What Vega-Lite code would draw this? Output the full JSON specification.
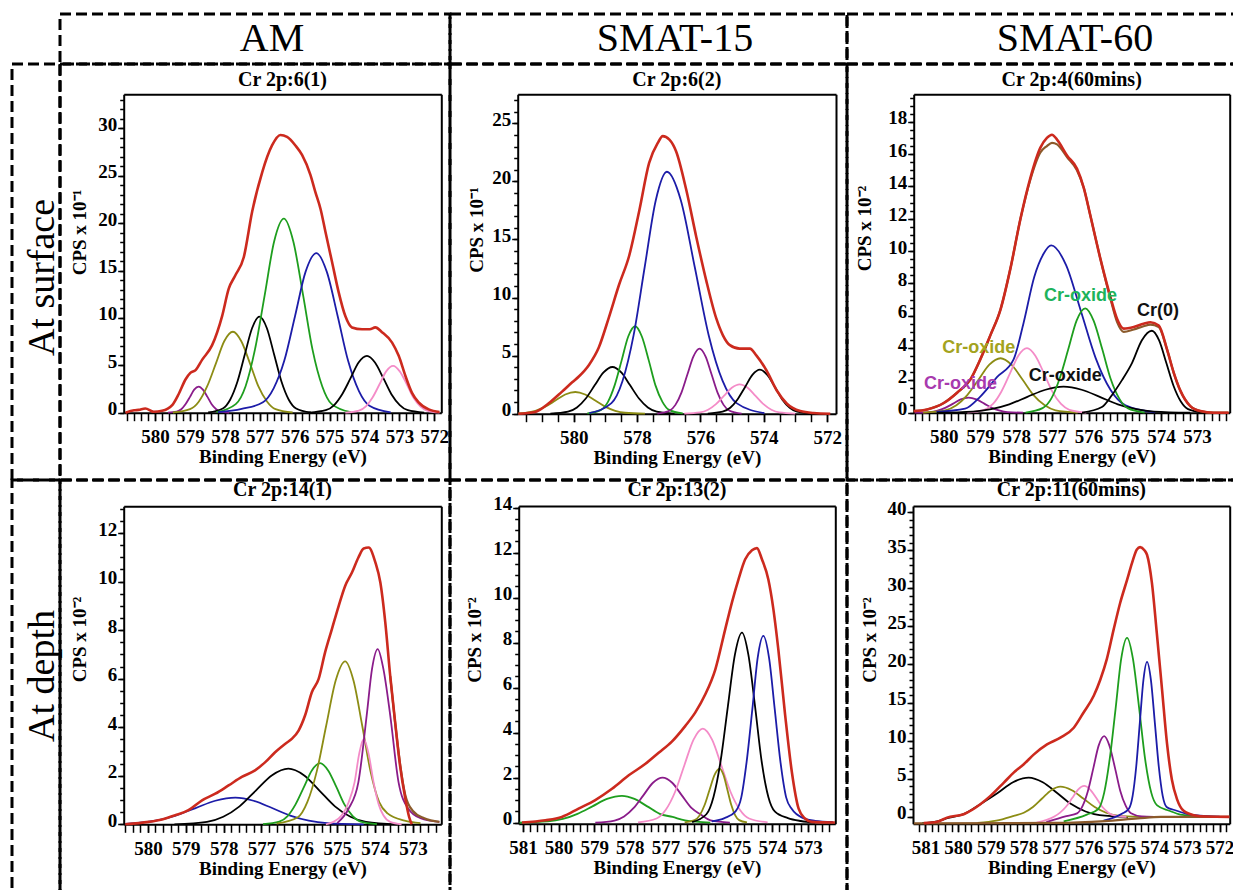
{
"$schema":"https://vega.github.io/schema/vega-lite/v6.json",
"background":"white",
"padding":{"left":10,"top":12,"right":0,"bottom":0},
"config":{
 "axis":{"labelFont":"Liberation Serif","labelFontSize":19,"labelFontWeight":"bold","labelColor":"black","titleFont":"Liberation Serif","titleFontSize":19,"titleFontWeight":"bold","titleColor":"black","domainColor":"black","domainWidth":2,"tickColor":"black","tickWidth":1.5,"grid":false,"labelOverlap":false,"labelFlush":false},
 "title":{"font":"Liberation Serif","fontSize":20,"fontWeight":"bold","color":"black"}
},
"datasets":{
"labels":[
{"p":3,"s":"G","t":"Cr-oxide","x":576.22,"y":7.25},
{"p":3,"s":"K","t":"Cr(0)","x":574.08,"y":6.31},
{"p":3,"s":"O","t":"Cr-oxide","x":579.03,"y":4.0},
{"p":3,"s":"K","t":"Cr-oxide","x":576.64,"y":2.28},
{"p":3,"s":"P","t":"Cr-oxide","x":579.54,"y":1.76}
],
"curves":[
{"p":1,"s":"P","x":579.63,"y":0.01},{"p":1,"s":"P","x":579.38,"y":0.12},{"p":1,"s":"P","x":579.25,"y":0.37},{"p":1,"s":"P","x":579.13,"y":0.89},{"p":1,"s":"P","x":579.0,"y":1.67},{"p":1,"s":"P","x":578.88,"y":2.43},{"p":1,"s":"P","x":578.75,"y":2.75},{"p":1,"s":"P","x":578.63,"y":2.43},{"p":1,"s":"P","x":578.5,"y":1.67},{"p":1,"s":"P","x":578.38,"y":0.89},{"p":1,"s":"P","x":578.25,"y":0.37},{"p":1,"s":"P","x":578.13,"y":0.12},{"p":1,"s":"P","x":577.88,"y":0.01},
{"p":1,"s":"O","x":579.49,"y":0.02},{"p":1,"s":"O","x":579.0,"y":0.37},{"p":1,"s":"O","x":578.75,"y":1.16},{"p":1,"s":"O","x":578.51,"y":2.77},{"p":1,"s":"O","x":578.26,"y":5.18},{"p":1,"s":"O","x":578.02,"y":7.54},{"p":1,"s":"O","x":577.77,"y":8.54},{"p":1,"s":"O","x":577.53,"y":7.54},{"p":1,"s":"O","x":577.28,"y":5.18},{"p":1,"s":"O","x":577.04,"y":2.77},{"p":1,"s":"O","x":576.79,"y":1.16},{"p":1,"s":"O","x":576.55,"y":0.37},{"p":1,"s":"O","x":576.06,"y":0.02},
{"p":1,"s":"K","x":578.48,"y":0.02},{"p":1,"s":"K","x":578.06,"y":0.44},{"p":1,"s":"K","x":577.85,"y":1.37},{"p":1,"s":"K","x":577.64,"y":3.29},{"p":1,"s":"K","x":577.43,"y":6.14},{"p":1,"s":"K","x":577.22,"y":8.94},{"p":1,"s":"K","x":577.01,"y":10.13},{"p":1,"s":"K","x":576.8,"y":8.94},{"p":1,"s":"K","x":576.59,"y":6.14},{"p":1,"s":"K","x":576.38,"y":3.29},{"p":1,"s":"K","x":576.17,"y":1.37},{"p":1,"s":"K","x":575.96,"y":0.44},{"p":1,"s":"K","x":575.54,"y":0.02},
{"p":1,"s":"G","x":578.24,"y":0.05},{"p":1,"s":"G","x":577.69,"y":0.9},{"p":1,"s":"G","x":577.41,"y":2.77},{"p":1,"s":"G","x":577.14,"y":6.65},{"p":1,"s":"G","x":576.86,"y":12.41},{"p":1,"s":"G","x":576.59,"y":18.06},{"p":1,"s":"G","x":576.31,"y":20.47},{"p":1,"s":"G","x":576.04,"y":18.06},{"p":1,"s":"G","x":575.76,"y":12.41},{"p":1,"s":"G","x":575.49,"y":6.65},{"p":1,"s":"G","x":575.21,"y":2.77},{"p":1,"s":"G","x":574.94,"y":0.9},{"p":1,"s":"G","x":574.39,"y":0.05},
{"p":1,"s":"B","x":578.2,"y":0.05},{"p":1,"s":"B","x":577.52,"y":0.4},{"p":1,"s":"B","x":576.91,"y":1.1},{"p":1,"s":"B","x":576.6,"y":2.6},{"p":1,"s":"B","x":576.3,"y":5.47},{"p":1,"s":"B","x":575.99,"y":10.21},{"p":1,"s":"B","x":575.69,"y":14.86},{"p":1,"s":"B","x":575.38,"y":16.84},{"p":1,"s":"B","x":575.08,"y":14.86},{"p":1,"s":"B","x":574.77,"y":10.21},{"p":1,"s":"B","x":574.47,"y":5.47},{"p":1,"s":"B","x":574.16,"y":2.28},{"p":1,"s":"B","x":573.86,"y":0.74},{"p":1,"s":"B","x":573.25,"y":0.04},
{"p":1,"s":"K2","x":575.58,"y":0.01},{"p":1,"s":"K2","x":575.11,"y":0.26},{"p":1,"s":"K2","x":574.87,"y":0.81},{"p":1,"s":"K2","x":574.64,"y":1.95},{"p":1,"s":"K2","x":574.4,"y":3.64},{"p":1,"s":"K2","x":574.17,"y":5.3},{"p":1,"s":"K2","x":573.93,"y":6.0},{"p":1,"s":"K2","x":573.7,"y":5.3},{"p":1,"s":"K2","x":573.46,"y":3.64},{"p":1,"s":"K2","x":573.23,"y":1.95},{"p":1,"s":"K2","x":572.99,"y":0.81},{"p":1,"s":"K2","x":572.76,"y":0.26},{"p":1,"s":"K2","x":572.29,"y":0.01},
{"p":1,"s":"M","x":574.55,"y":0.01},{"p":1,"s":"M","x":574.16,"y":0.22},{"p":1,"s":"M","x":573.96,"y":0.67},{"p":1,"s":"M","x":573.77,"y":1.6},{"p":1,"s":"M","x":573.57,"y":3.0},{"p":1,"s":"M","x":573.38,"y":4.36},{"p":1,"s":"M","x":573.18,"y":4.94},{"p":1,"s":"M","x":572.99,"y":4.36},{"p":1,"s":"M","x":572.79,"y":3.0},{"p":1,"s":"M","x":572.6,"y":1.6},{"p":1,"s":"M","x":572.4,"y":0.67},{"p":1,"s":"M","x":572.21,"y":0.22},{"p":1,"s":"M","x":571.85,"y":0.01},
{"p":1,"s":"R","x":580.85,"y":0},{"p":1,"s":"R","x":580.6,"y":0.25},{"p":1,"s":"R","x":580.47,"y":0.3},{"p":1,"s":"R","x":580.28,"y":0.45},{"p":1,"s":"R","x":580.04,"y":0.1},{"p":1,"s":"R","x":579.8,"y":0.2},{"p":1,"s":"R","x":579.51,"y":0.8},{"p":1,"s":"R","x":579.32,"y":2.0},{"p":1,"s":"R","x":579.13,"y":3.5},{"p":1,"s":"R","x":578.99,"y":4.2},{"p":1,"s":"R","x":578.84,"y":4.5},{"p":1,"s":"R","x":578.65,"y":5.6},{"p":1,"s":"R","x":578.37,"y":7.1},{"p":1,"s":"R","x":578.08,"y":10.2},{"p":1,"s":"R","x":577.89,"y":13.1},{"p":1,"s":"R","x":577.7,"y":14.5},{"p":1,"s":"R","x":577.46,"y":16.4},{"p":1,"s":"R","x":577.22,"y":21.2},{"p":1,"s":"R","x":576.93,"y":25.4},{"p":1,"s":"R","x":576.65,"y":28.2},{"p":1,"s":"R","x":576.41,"y":29.3},{"p":1,"s":"R","x":576.22,"y":29.1},{"p":1,"s":"R","x":575.98,"y":28.2},{"p":1,"s":"R","x":575.79,"y":27.2},{"p":1,"s":"R","x":575.55,"y":25.1},{"p":1,"s":"R","x":575.41,"y":23.3},{"p":1,"s":"R","x":575.26,"y":21.5},{"p":1,"s":"R","x":575.12,"y":19.1},{"p":1,"s":"R","x":574.93,"y":15.9},{"p":1,"s":"R","x":574.74,"y":12.7},{"p":1,"s":"R","x":574.55,"y":10.2},{"p":1,"s":"R","x":574.36,"y":9.0},{"p":1,"s":"R","x":574.07,"y":8.8},{"p":1,"s":"R","x":573.85,"y":8.8},{"p":1,"s":"R","x":573.69,"y":9.0},{"p":1,"s":"R","x":573.5,"y":8.5},{"p":1,"s":"R","x":573.21,"y":7.4},{"p":1,"s":"R","x":573.02,"y":6.0},{"p":1,"s":"R","x":572.83,"y":3.9},{"p":1,"s":"R","x":572.64,"y":2.1},{"p":1,"s":"R","x":572.45,"y":1.1},{"p":1,"s":"R","x":572.16,"y":0.35},{"p":1,"s":"R","x":571.85,"y":0.07},

{"p":2,"s":"O","x":581.75,"y":0.03},{"p":2,"s":"O","x":581.53,"y":0.08},{"p":2,"s":"O","x":581.21,"y":0.25},{"p":2,"s":"O","x":580.9,"y":0.61},{"p":2,"s":"O","x":580.58,"y":1.13},{"p":2,"s":"O","x":580.27,"y":1.65},{"p":2,"s":"O","x":579.95,"y":1.87},{"p":2,"s":"O","x":579.64,"y":1.65},{"p":2,"s":"O","x":579.32,"y":1.13},{"p":2,"s":"O","x":579.01,"y":0.61},{"p":2,"s":"O","x":578.69,"y":0.25},{"p":2,"s":"O","x":578.38,"y":0.08},{"p":2,"s":"O","x":577.75,"y":0},
{"p":2,"s":"K","x":580.74,"y":0.01},{"p":2,"s":"K","x":580.18,"y":0.18},{"p":2,"s":"K","x":579.9,"y":0.54},{"p":2,"s":"K","x":579.62,"y":1.31},{"p":2,"s":"K","x":579.34,"y":2.44},{"p":2,"s":"K","x":579.06,"y":3.55},{"p":2,"s":"K","x":578.78,"y":4.02},{"p":2,"s":"K","x":578.5,"y":3.55},{"p":2,"s":"K","x":578.22,"y":2.44},{"p":2,"s":"K","x":577.94,"y":1.31},{"p":2,"s":"K","x":577.66,"y":0.54},{"p":2,"s":"K","x":577.38,"y":0.18},{"p":2,"s":"K","x":576.82,"y":0.01},
{"p":2,"s":"G","x":579.57,"y":0.02},{"p":2,"s":"G","x":579.14,"y":0.33},{"p":2,"s":"G","x":578.92,"y":1.02},{"p":2,"s":"G","x":578.71,"y":2.44},{"p":2,"s":"G","x":578.49,"y":4.57},{"p":2,"s":"G","x":578.28,"y":6.65},{"p":2,"s":"G","x":578.06,"y":7.53},{"p":2,"s":"G","x":577.85,"y":6.65},{"p":2,"s":"G","x":577.63,"y":4.57},{"p":2,"s":"G","x":577.42,"y":2.44},{"p":2,"s":"G","x":577.2,"y":1.02},{"p":2,"s":"G","x":576.99,"y":0.33},{"p":2,"s":"G","x":576.56,"y":0.02},
{"p":2,"s":"B","x":579.51,"y":0.05},{"p":2,"s":"B","x":578.81,"y":0.91},{"p":2,"s":"B","x":578.46,"y":2.82},{"p":2,"s":"B","x":578.11,"y":6.76},{"p":2,"s":"B","x":577.76,"y":12.63},{"p":2,"s":"B","x":577.41,"y":18.38},{"p":2,"s":"B","x":577.06,"y":20.83},{"p":2,"s":"B","x":576.62,"y":18.38},{"p":2,"s":"B","x":576.18,"y":12.63},{"p":2,"s":"B","x":575.74,"y":6.76},{"p":2,"s":"B","x":575.3,"y":2.82},{"p":2,"s":"B","x":574.86,"y":0.91},{"p":2,"s":"B","x":573.98,"y":0.05},
{"p":2,"s":"P","x":577.36,"y":0.01},{"p":2,"s":"P","x":576.98,"y":0.25},{"p":2,"s":"P","x":576.79,"y":0.76},{"p":2,"s":"P","x":576.6,"y":1.82},{"p":2,"s":"P","x":576.41,"y":3.4},{"p":2,"s":"P","x":576.22,"y":4.94},{"p":2,"s":"P","x":576.03,"y":5.6},{"p":2,"s":"P","x":575.84,"y":4.94},{"p":2,"s":"P","x":575.65,"y":3.4},{"p":2,"s":"P","x":575.46,"y":1.82},{"p":2,"s":"P","x":575.27,"y":0.76},{"p":2,"s":"P","x":575.08,"y":0.25},{"p":2,"s":"P","x":574.7,"y":0.01},
{"p":2,"s":"M","x":576.51,"y":0.01},{"p":2,"s":"M","x":576.01,"y":0.11},{"p":2,"s":"M","x":575.76,"y":0.34},{"p":2,"s":"M","x":575.51,"y":0.82},{"p":2,"s":"M","x":575.26,"y":1.53},{"p":2,"s":"M","x":575.01,"y":2.23},{"p":2,"s":"M","x":574.76,"y":2.53},{"p":2,"s":"M","x":574.51,"y":2.23},{"p":2,"s":"M","x":574.26,"y":1.53},{"p":2,"s":"M","x":574.01,"y":0.82},{"p":2,"s":"M","x":573.76,"y":0.34},{"p":2,"s":"M","x":573.51,"y":0.11},{"p":2,"s":"M","x":573.01,"y":0.01},
{"p":2,"s":"K2","x":575.77,"y":0.01},{"p":2,"s":"K2","x":575.3,"y":0.17},{"p":2,"s":"K2","x":575.06,"y":0.51},{"p":2,"s":"K2","x":574.83,"y":1.23},{"p":2,"s":"K2","x":574.59,"y":2.3},{"p":2,"s":"K2","x":574.36,"y":3.34},{"p":2,"s":"K2","x":574.12,"y":3.79},{"p":2,"s":"K2","x":573.89,"y":3.34},{"p":2,"s":"K2","x":573.65,"y":2.3},{"p":2,"s":"K2","x":573.42,"y":1.23},{"p":2,"s":"K2","x":573.18,"y":0.51},{"p":2,"s":"K2","x":572.95,"y":0.17},{"p":2,"s":"K2","x":572.48,"y":0.01},
{"p":2,"s":"R","x":581.75,"y":0},{"p":2,"s":"R","x":581.22,"y":0.15},{"p":2,"s":"R","x":580.79,"y":0.9},{"p":2,"s":"R","x":580.37,"y":1.9},{"p":2,"s":"R","x":580.05,"y":2.7},{"p":2,"s":"R","x":579.84,"y":3.2},{"p":2,"s":"R","x":579.52,"y":4.2},{"p":2,"s":"R","x":579.21,"y":5.7},{"p":2,"s":"R","x":578.89,"y":8.3},{"p":2,"s":"R","x":578.57,"y":11.1},{"p":2,"s":"R","x":578.25,"y":13.6},{"p":2,"s":"R","x":577.93,"y":17.5},{"p":2,"s":"R","x":577.62,"y":21.6},{"p":2,"s":"R","x":577.35,"y":23.3},{"p":2,"s":"R","x":577.19,"y":23.9},{"p":2,"s":"R","x":576.98,"y":23.6},{"p":2,"s":"R","x":576.77,"y":22.6},{"p":2,"s":"R","x":576.45,"y":19.3},{"p":2,"s":"R","x":576.13,"y":15.2},{"p":2,"s":"R","x":575.82,"y":11.5},{"p":2,"s":"R","x":575.5,"y":8.2},{"p":2,"s":"R","x":575.29,"y":6.75},{"p":2,"s":"R","x":575.07,"y":5.9},{"p":2,"s":"R","x":574.76,"y":5.6},{"p":2,"s":"R","x":574.44,"y":5.6},{"p":2,"s":"R","x":574.23,"y":5.0},{"p":2,"s":"R","x":573.91,"y":3.7},{"p":2,"s":"R","x":573.59,"y":2.0},{"p":2,"s":"R","x":573.27,"y":0.86},{"p":2,"s":"R","x":572.85,"y":0.23},{"p":2,"s":"R","x":572.43,"y":0.06},{"p":2,"s":"R","x":571.9,"y":0},

{"p":3,"s":"P","x":580.8,"y":0},{"p":3,"s":"P","x":580.39,"y":0.04},{"p":3,"s":"P","x":580.17,"y":0.13},{"p":3,"s":"P","x":579.96,"y":0.3},{"p":3,"s":"P","x":579.74,"y":0.56},{"p":3,"s":"P","x":579.53,"y":0.82},{"p":3,"s":"P","x":579.31,"y":0.93},{"p":3,"s":"P","x":579.1,"y":0.82},{"p":3,"s":"P","x":578.88,"y":0.56},{"p":3,"s":"P","x":578.67,"y":0.3},{"p":3,"s":"P","x":578.45,"y":0.13},{"p":3,"s":"P","x":578.24,"y":0.04},{"p":3,"s":"P","x":577.81,"y":0},
{"p":3,"s":"O","x":580.57,"y":0.01},{"p":3,"s":"O","x":579.96,"y":0.15},{"p":3,"s":"O","x":579.65,"y":0.46},{"p":3,"s":"O","x":579.35,"y":1.09},{"p":3,"s":"O","x":579.04,"y":2.04},{"p":3,"s":"O","x":578.74,"y":2.97},{"p":3,"s":"O","x":578.43,"y":3.37},{"p":3,"s":"O","x":578.13,"y":2.97},{"p":3,"s":"O","x":577.82,"y":2.04},{"p":3,"s":"O","x":577.52,"y":1.09},{"p":3,"s":"O","x":577.21,"y":0.46},{"p":3,"s":"O","x":576.91,"y":0.15},{"p":3,"s":"O","x":576.3,"y":0.01},
{"p":3,"s":"B","x":580.2,"y":0.05},{"p":3,"s":"B","x":579.41,"y":0.25},{"p":3,"s":"B","x":578.99,"y":1.0},{"p":3,"s":"B","x":578.53,"y":2.2},{"p":3,"s":"B","x":578.07,"y":3.3},{"p":3,"s":"B","x":577.79,"y":5.6},{"p":3,"s":"B","x":577.5,"y":8.4},{"p":3,"s":"B","x":577.25,"y":9.8},{"p":3,"s":"B","x":577.03,"y":10.35},{"p":3,"s":"B","x":576.62,"y":9.13},{"p":3,"s":"B","x":576.21,"y":6.28},{"p":3,"s":"B","x":575.8,"y":3.36},{"p":3,"s":"B","x":575.39,"y":1.4},{"p":3,"s":"B","x":574.98,"y":0.45},{"p":3,"s":"B","x":574.16,"y":0.02},
{"p":3,"s":"M","x":579.35,"y":0.01},{"p":3,"s":"M","x":578.88,"y":0.18},{"p":3,"s":"M","x":578.64,"y":0.54},{"p":3,"s":"M","x":578.41,"y":1.3},{"p":3,"s":"M","x":578.17,"y":2.43},{"p":3,"s":"M","x":577.94,"y":3.53},{"p":3,"s":"M","x":577.7,"y":4.0},{"p":3,"s":"M","x":577.47,"y":3.53},{"p":3,"s":"M","x":577.23,"y":2.43},{"p":3,"s":"M","x":577.0,"y":1.3},{"p":3,"s":"M","x":576.76,"y":0.54},{"p":3,"s":"M","x":576.53,"y":0.18},{"p":3,"s":"M","x":576.06,"y":0.01},
{"p":3,"s":"K","x":580.19,"y":0},{"p":3,"s":"K","x":579.19,"y":0.07},{"p":3,"s":"K","x":578.69,"y":0.22},{"p":3,"s":"K","x":578.19,"y":0.52},{"p":3,"s":"K","x":577.69,"y":0.98},{"p":3,"s":"K","x":577.19,"y":1.42},{"p":3,"s":"K","x":576.69,"y":1.61},{"p":3,"s":"K","x":576.19,"y":1.42},{"p":3,"s":"K","x":575.69,"y":0.98},{"p":3,"s":"K","x":575.19,"y":0.52},{"p":3,"s":"K","x":574.69,"y":0.22},{"p":3,"s":"K","x":574.19,"y":0.07},{"p":3,"s":"K","x":573.19,"y":0},
{"p":3,"s":"G","x":577.74,"y":0.01},{"p":3,"s":"G","x":577.27,"y":0.28},{"p":3,"s":"G","x":577.03,"y":0.87},{"p":3,"s":"G","x":576.8,"y":2.1},{"p":3,"s":"G","x":576.56,"y":3.92},{"p":3,"s":"G","x":576.33,"y":5.7},{"p":3,"s":"G","x":576.09,"y":6.46},{"p":3,"s":"G","x":575.86,"y":5.7},{"p":3,"s":"G","x":575.62,"y":3.92},{"p":3,"s":"G","x":575.39,"y":2.1},{"p":3,"s":"G","x":575.15,"y":0.87},{"p":3,"s":"G","x":574.92,"y":0.28},{"p":3,"s":"G","x":574.45,"y":0.01},
{"p":3,"s":"K2","x":576.18,"y":0.01},{"p":3,"s":"K2","x":575.63,"y":0.35},{"p":3,"s":"K2","x":575.35,"y":1.1},{"p":3,"s":"K2","x":575.08,"y":2.0},{"p":3,"s":"K2","x":574.8,"y":3.07},{"p":3,"s":"K2","x":574.53,"y":4.47},{"p":3,"s":"K2","x":574.25,"y":5.07},{"p":3,"s":"K2","x":574.05,"y":4.47},{"p":3,"s":"K2","x":573.85,"y":3.07},{"p":3,"s":"K2","x":573.65,"y":1.65},{"p":3,"s":"K2","x":573.45,"y":0.69},{"p":3,"s":"K2","x":573.25,"y":0.22},{"p":3,"s":"K2","x":572.85,"y":0.01},
{"p":3,"s":"N","x":580.83,"y":0.1},{"p":3,"s":"N","x":580.46,"y":0.2},{"p":3,"s":"N","x":580.0,"y":0.6},{"p":3,"s":"N","x":579.63,"y":1.24},{"p":3,"s":"N","x":579.26,"y":2.07},{"p":3,"s":"N","x":578.99,"y":3.3},{"p":3,"s":"N","x":578.71,"y":4.8},{"p":3,"s":"N","x":578.43,"y":6.4},{"p":3,"s":"N","x":578.16,"y":8.9},{"p":3,"s":"N","x":577.88,"y":12.0},{"p":3,"s":"N","x":577.61,"y":14.4},{"p":3,"s":"N","x":577.33,"y":16.1},{"p":3,"s":"N","x":577.15,"y":16.5},{"p":3,"s":"N","x":577.01,"y":16.7},{"p":3,"s":"N","x":576.87,"y":16.6},{"p":3,"s":"N","x":576.59,"y":15.8},{"p":3,"s":"N","x":576.32,"y":15.0},{"p":3,"s":"N","x":576.13,"y":13.9},{"p":3,"s":"N","x":575.95,"y":12.2},{"p":3,"s":"N","x":575.67,"y":9.5},{"p":3,"s":"N","x":575.4,"y":7.1},{"p":3,"s":"N","x":575.21,"y":5.6},{"p":3,"s":"N","x":575.03,"y":5.0},{"p":3,"s":"N","x":574.75,"y":5.15},{"p":3,"s":"N","x":574.48,"y":5.35},{"p":3,"s":"N","x":574.29,"y":5.45},{"p":3,"s":"N","x":574.06,"y":5.3},{"p":3,"s":"N","x":573.83,"y":3.9},{"p":3,"s":"N","x":573.65,"y":2.5},{"p":3,"s":"N","x":573.46,"y":1.35},{"p":3,"s":"N","x":573.19,"y":0.41},{"p":3,"s":"N","x":572.91,"y":0.1},{"p":3,"s":"N","x":572.54,"y":0},{"p":3,"s":"N","x":572.13,"y":0},
{"p":3,"s":"R","x":580.83,"y":0.1},{"p":3,"s":"R","x":580.46,"y":0.2},{"p":3,"s":"R","x":580.0,"y":0.6},{"p":3,"s":"R","x":579.63,"y":1.24},{"p":3,"s":"R","x":579.26,"y":2.07},{"p":3,"s":"R","x":578.99,"y":3.3},{"p":3,"s":"R","x":578.71,"y":4.8},{"p":3,"s":"R","x":578.43,"y":6.4},{"p":3,"s":"R","x":578.16,"y":8.9},{"p":3,"s":"R","x":577.88,"y":12.0},{"p":3,"s":"R","x":577.61,"y":14.5},{"p":3,"s":"R","x":577.33,"y":16.4},{"p":3,"s":"R","x":577.15,"y":17.0},{"p":3,"s":"R","x":577.01,"y":17.2},{"p":3,"s":"R","x":576.87,"y":16.9},{"p":3,"s":"R","x":576.59,"y":15.9},{"p":3,"s":"R","x":576.32,"y":15.1},{"p":3,"s":"R","x":576.13,"y":13.9},{"p":3,"s":"R","x":575.95,"y":12.2},{"p":3,"s":"R","x":575.67,"y":9.5},{"p":3,"s":"R","x":575.4,"y":7.2},{"p":3,"s":"R","x":575.21,"y":5.8},{"p":3,"s":"R","x":575.03,"y":5.2},{"p":3,"s":"R","x":574.75,"y":5.3},{"p":3,"s":"R","x":574.48,"y":5.5},{"p":3,"s":"R","x":574.29,"y":5.6},{"p":3,"s":"R","x":574.06,"y":5.4},{"p":3,"s":"R","x":573.83,"y":3.9},{"p":3,"s":"R","x":573.65,"y":2.5},{"p":3,"s":"R","x":573.46,"y":1.35},{"p":3,"s":"R","x":573.19,"y":0.41},{"p":3,"s":"R","x":572.91,"y":0.1},{"p":3,"s":"R","x":572.54,"y":0},{"p":3,"s":"R","x":572.13,"y":0},

{"p":4,"s":"B","x":580.6,"y":0.02},{"p":4,"s":"B","x":580.32,"y":0.05},{"p":4,"s":"B","x":579.79,"y":0.15},{"p":4,"s":"B","x":579.27,"y":0.36},{"p":4,"s":"B","x":578.74,"y":0.67},{"p":4,"s":"B","x":578.22,"y":0.97},{"p":4,"s":"B","x":577.69,"y":1.1},{"p":4,"s":"B","x":577.21,"y":0.97},{"p":4,"s":"B","x":576.72,"y":0.67},{"p":4,"s":"B","x":576.24,"y":0.36},{"p":4,"s":"B","x":575.75,"y":0.15},{"p":4,"s":"B","x":575.27,"y":0.05},{"p":4,"s":"B","x":574.3,"y":0},
{"p":4,"s":"K","x":579.3,"y":0},{"p":4,"s":"K","x":578.44,"y":0.1},{"p":4,"s":"K","x":578.01,"y":0.31},{"p":4,"s":"K","x":577.58,"y":0.74},{"p":4,"s":"K","x":577.15,"y":1.39},{"p":4,"s":"K","x":576.72,"y":2.02},{"p":4,"s":"K","x":576.29,"y":2.29},{"p":4,"s":"K","x":575.88,"y":2.02},{"p":4,"s":"K","x":575.47,"y":1.39},{"p":4,"s":"K","x":575.06,"y":0.74},{"p":4,"s":"K","x":574.65,"y":0.31},{"p":4,"s":"K","x":574.24,"y":0.1},{"p":4,"s":"K","x":573.42,"y":0},
{"p":4,"s":"G","x":576.96,"y":0.01},{"p":4,"s":"G","x":576.53,"y":0.11},{"p":4,"s":"G","x":576.31,"y":0.34},{"p":4,"s":"G","x":576.1,"y":0.82},{"p":4,"s":"G","x":575.88,"y":1.53},{"p":4,"s":"G","x":575.67,"y":2.22},{"p":4,"s":"G","x":575.45,"y":2.52},{"p":4,"s":"G","x":575.24,"y":2.22},{"p":4,"s":"G","x":575.02,"y":1.53},{"p":4,"s":"G","x":574.81,"y":0.82},{"p":4,"s":"G","x":574.59,"y":0.34},{"p":4,"s":"G","x":574.38,"y":0.11},{"p":4,"s":"G","x":573.95,"y":0.01},
{"p":4,"s":"O","x":576.6,"y":0.03},{"p":4,"s":"O","x":576.04,"y":0.29},{"p":4,"s":"O","x":575.79,"y":0.91},{"p":4,"s":"O","x":575.54,"y":2.18},{"p":4,"s":"O","x":575.29,"y":4.07},{"p":4,"s":"O","x":575.04,"y":5.92},{"p":4,"s":"O","x":574.79,"y":6.71},{"p":4,"s":"O","x":574.57,"y":5.92},{"p":4,"s":"O","x":574.34,"y":4.07},{"p":4,"s":"O","x":574.12,"y":2.18},{"p":4,"s":"O","x":573.89,"y":0.91},{"p":4,"s":"O","x":573.67,"y":0.45},{"p":4,"s":"O","x":573.22,"y":0.15},{"p":4,"s":"O","x":572.8,"y":0.05},
{"p":4,"s":"M","x":575.3,"y":0},{"p":4,"s":"M","x":575.1,"y":0.1},{"p":4,"s":"M","x":574.88,"y":0.37},{"p":4,"s":"M","x":574.7,"y":0.9},{"p":4,"s":"M","x":574.54,"y":1.74},{"p":4,"s":"M","x":574.42,"y":2.9},{"p":4,"s":"M","x":574.3,"y":3.52},{"p":4,"s":"M","x":574.17,"y":2.9},{"p":4,"s":"M","x":574.04,"y":1.74},{"p":4,"s":"M","x":573.9,"y":0.8},{"p":4,"s":"M","x":573.78,"y":0.37},{"p":4,"s":"M","x":573.6,"y":0.1},{"p":4,"s":"M","x":573.3,"y":0},
{"p":4,"s":"P","x":575.0,"y":0.05},{"p":4,"s":"P","x":574.7,"y":0.64},{"p":4,"s":"P","x":574.44,"y":1.74},{"p":4,"s":"P","x":574.22,"y":4.5},{"p":4,"s":"P","x":574.08,"y":6.4},{"p":4,"s":"P","x":573.93,"y":7.22},{"p":4,"s":"P","x":573.78,"y":6.4},{"p":4,"s":"P","x":573.6,"y":4.5},{"p":4,"s":"P","x":573.38,"y":1.74},{"p":4,"s":"P","x":573.12,"y":0.64},{"p":4,"s":"P","x":572.8,"y":0.25},{"p":4,"s":"P","x":572.3,"y":0.1},
{"p":4,"s":"N","x":573.6,"y":6.1},{"p":4,"s":"N","x":573.47,"y":4.2},{"p":4,"s":"N","x":573.34,"y":2.5},{"p":4,"s":"N","x":573.2,"y":1.2},{"p":4,"s":"N","x":573.0,"y":0.55},{"p":4,"s":"N","x":572.7,"y":0.25},{"p":4,"s":"N","x":572.3,"y":0.1},
{"p":4,"s":"R","x":580.6,"y":0},{"p":4,"s":"R","x":579.98,"y":0.1},{"p":4,"s":"R","x":579.63,"y":0.2},{"p":4,"s":"R","x":579.28,"y":0.37},{"p":4,"s":"R","x":578.93,"y":0.58},{"p":4,"s":"R","x":578.57,"y":0.99},{"p":4,"s":"R","x":578.22,"y":1.26},{"p":4,"s":"R","x":577.87,"y":1.6},{"p":4,"s":"R","x":577.52,"y":1.95},{"p":4,"s":"R","x":577.17,"y":2.22},{"p":4,"s":"R","x":576.9,"y":2.56},{"p":4,"s":"R","x":576.64,"y":2.97},{"p":4,"s":"R","x":576.37,"y":3.32},{"p":4,"s":"R","x":576.2,"y":3.52},{"p":4,"s":"R","x":576.02,"y":3.86},{"p":4,"s":"R","x":575.85,"y":4.48},{"p":4,"s":"R","x":575.67,"y":5.44},{"p":4,"s":"R","x":575.49,"y":5.99},{"p":4,"s":"R","x":575.32,"y":7.08},{"p":4,"s":"R","x":575.14,"y":8.04},{"p":4,"s":"R","x":574.96,"y":9.0},{"p":4,"s":"R","x":574.79,"y":9.82},{"p":4,"s":"R","x":574.61,"y":10.37},{"p":4,"s":"R","x":574.44,"y":10.99},{"p":4,"s":"R","x":574.3,"y":11.36},{"p":4,"s":"R","x":574.17,"y":11.4},{"p":4,"s":"R","x":573.99,"y":10.78},{"p":4,"s":"R","x":573.86,"y":9.96},{"p":4,"s":"R","x":573.73,"y":8.32},{"p":4,"s":"R","x":573.6,"y":6.12},{"p":4,"s":"R","x":573.47,"y":4.21},{"p":4,"s":"R","x":573.34,"y":2.42},{"p":4,"s":"R","x":573.2,"y":1.05},{"p":4,"s":"R","x":573.1,"y":0.3},{"p":4,"s":"R","x":573.03,"y":0},

{"p":5,"s":"G","x":581.1,"y":0},{"p":5,"s":"G","x":580.3,"y":0.05},{"p":5,"s":"G","x":579.88,"y":0.16},{"p":5,"s":"G","x":579.47,"y":0.39},{"p":5,"s":"G","x":579.05,"y":0.72},{"p":5,"s":"G","x":578.64,"y":1.05},{"p":5,"s":"G","x":578.22,"y":1.19},{"p":5,"s":"G","x":577.87,"y":1.05},{"p":5,"s":"G","x":577.51,"y":0.72},{"p":5,"s":"G","x":577.16,"y":0.39},{"p":5,"s":"G","x":576.8,"y":0.25},{"p":5,"s":"G","x":576.45,"y":0.1},{"p":5,"s":"G","x":575.74,"y":0},
{"p":5,"s":"P","x":578.97,"y":0},{"p":5,"s":"P","x":578.43,"y":0.09},{"p":5,"s":"P","x":578.16,"y":0.27},{"p":5,"s":"P","x":577.89,"y":0.65},{"p":5,"s":"P","x":577.62,"y":1.21},{"p":5,"s":"P","x":577.35,"y":1.77},{"p":5,"s":"P","x":577.08,"y":2.0},{"p":5,"s":"P","x":576.81,"y":1.77},{"p":5,"s":"P","x":576.54,"y":1.21},{"p":5,"s":"P","x":576.27,"y":0.65},{"p":5,"s":"P","x":576.0,"y":0.35},{"p":5,"s":"P","x":575.73,"y":0.1},{"p":5,"s":"P","x":575.19,"y":0},
{"p":5,"s":"M","x":577.77,"y":0.01},{"p":5,"s":"M","x":577.25,"y":0.18},{"p":5,"s":"M","x":576.99,"y":0.57},{"p":5,"s":"M","x":576.73,"y":1.36},{"p":5,"s":"M","x":576.47,"y":2.54},{"p":5,"s":"M","x":576.21,"y":3.69},{"p":5,"s":"M","x":575.95,"y":4.18},{"p":5,"s":"M","x":575.69,"y":3.69},{"p":5,"s":"M","x":575.43,"y":2.54},{"p":5,"s":"M","x":575.17,"y":1.36},{"p":5,"s":"M","x":574.91,"y":0.57},{"p":5,"s":"M","x":574.65,"y":0.18},{"p":5,"s":"M","x":574.13,"y":0.01},
{"p":5,"s":"O","x":576.46,"y":0.01},{"p":5,"s":"O","x":576.18,"y":0.11},{"p":5,"s":"O","x":576.04,"y":0.32},{"p":5,"s":"O","x":575.9,"y":0.78},{"p":5,"s":"O","x":575.76,"y":1.46},{"p":5,"s":"O","x":575.62,"y":2.12},{"p":5,"s":"O","x":575.48,"y":2.4},{"p":5,"s":"O","x":575.37,"y":2.12},{"p":5,"s":"O","x":575.26,"y":1.46},{"p":5,"s":"O","x":575.15,"y":0.78},{"p":5,"s":"O","x":575.04,"y":0.32},{"p":5,"s":"O","x":574.93,"y":0.11},{"p":5,"s":"O","x":574.71,"y":0.01},
{"p":5,"s":"K","x":576.25,"y":0.02},{"p":5,"s":"K","x":575.85,"y":0.37},{"p":5,"s":"K","x":575.65,"y":1.14},{"p":5,"s":"K","x":575.45,"y":2.74},{"p":5,"s":"K","x":575.25,"y":5.12},{"p":5,"s":"K","x":575.05,"y":7.45},{"p":5,"s":"K","x":574.85,"y":8.44},{"p":5,"s":"K","x":574.67,"y":7.45},{"p":5,"s":"K","x":574.48,"y":5.12},{"p":5,"s":"K","x":574.3,"y":2.74},{"p":5,"s":"K","x":574.11,"y":1.14},{"p":5,"s":"K","x":573.93,"y":0.5},{"p":5,"s":"K","x":573.56,"y":0.2},{"p":5,"s":"K","x":573.2,"y":0.07},{"p":5,"s":"K","x":572.8,"y":0},
{"p":5,"s":"B","x":575.7,"y":0.05},{"p":5,"s":"B","x":575.34,"y":0.2},{"p":5,"s":"B","x":575.03,"y":0.5},{"p":5,"s":"B","x":574.87,"y":1.12},{"p":5,"s":"B","x":574.72,"y":2.7},{"p":5,"s":"B","x":574.56,"y":5.03},{"p":5,"s":"B","x":574.41,"y":7.32},{"p":5,"s":"B","x":574.25,"y":8.3},{"p":5,"s":"B","x":574.09,"y":7.32},{"p":5,"s":"B","x":573.93,"y":5.03},{"p":5,"s":"B","x":573.77,"y":2.7},{"p":5,"s":"B","x":573.61,"y":1.12},{"p":5,"s":"B","x":573.45,"y":0.6},{"p":5,"s":"B","x":573.13,"y":0.2},{"p":5,"s":"B","x":572.8,"y":0.08},{"p":5,"s":"B","x":572.3,"y":0.03},
{"p":5,"s":"R","x":581.03,"y":0},{"p":5,"s":"R","x":580.37,"y":0.1},{"p":5,"s":"R","x":579.91,"y":0.25},{"p":5,"s":"R","x":579.44,"y":0.62},{"p":5,"s":"R","x":578.97,"y":1.0},{"p":5,"s":"R","x":578.5,"y":1.5},{"p":5,"s":"R","x":578.03,"y":2.1},{"p":5,"s":"R","x":577.57,"y":2.6},{"p":5,"s":"R","x":577.19,"y":3.1},{"p":5,"s":"R","x":576.82,"y":3.6},{"p":5,"s":"R","x":576.44,"y":4.3},{"p":5,"s":"R","x":576.16,"y":4.9},{"p":5,"s":"R","x":575.88,"y":5.7},{"p":5,"s":"R","x":575.6,"y":6.8},{"p":5,"s":"R","x":575.32,"y":8.6},{"p":5,"s":"R","x":575.13,"y":9.8},{"p":5,"s":"R","x":574.95,"y":10.8},{"p":5,"s":"R","x":574.76,"y":11.7},{"p":5,"s":"R","x":574.57,"y":12.1},{"p":5,"s":"R","x":574.43,"y":12.2},{"p":5,"s":"R","x":574.29,"y":11.7},{"p":5,"s":"R","x":574.11,"y":10.8},{"p":5,"s":"R","x":573.97,"y":9.5},{"p":5,"s":"R","x":573.83,"y":7.7},{"p":5,"s":"R","x":573.64,"y":4.8},{"p":5,"s":"R","x":573.45,"y":2.25},{"p":5,"s":"R","x":573.26,"y":0.62},{"p":5,"s":"R","x":573.08,"y":0.18},{"p":5,"s":"R","x":572.89,"y":0.03},{"p":5,"s":"R","x":572.24,"y":0},

{"p":6,"s":"K","x":581.1,"y":-0.83},{"p":6,"s":"K","x":580.64,"y":-0.6},{"p":6,"s":"K","x":580.3,"y":-0.15},{"p":6,"s":"K","x":579.83,"y":0.35},{"p":6,"s":"K","x":579.32,"y":1.66},{"p":6,"s":"K","x":578.79,"y":3.12},{"p":6,"s":"K","x":578.32,"y":4.54},{"p":6,"s":"K","x":577.84,"y":5.15},{"p":6,"s":"K","x":577.41,"y":4.54},{"p":6,"s":"K","x":576.97,"y":3.12},{"p":6,"s":"K","x":576.54,"y":1.67},{"p":6,"s":"K","x":576.1,"y":0.7},{"p":6,"s":"K","x":575.67,"y":0.23},{"p":6,"s":"K","x":574.8,"y":0},
{"p":6,"s":"O","x":579.4,"y":-0.8},{"p":6,"s":"O","x":578.83,"y":-0.5},{"p":6,"s":"O","x":578.27,"y":0.17},{"p":6,"s":"O","x":577.99,"y":0.54},{"p":6,"s":"O","x":577.71,"y":1.29},{"p":6,"s":"O","x":577.43,"y":2.41},{"p":6,"s":"O","x":577.15,"y":3.5},{"p":6,"s":"O","x":576.87,"y":3.97},{"p":6,"s":"O","x":576.52,"y":3.5},{"p":6,"s":"O","x":576.17,"y":2.41},{"p":6,"s":"O","x":575.82,"y":1.29},{"p":6,"s":"O","x":575.47,"y":0.54},{"p":6,"s":"O","x":575.12,"y":0.17},{"p":6,"s":"O","x":574.42,"y":0},
{"p":6,"s":"M","x":577.6,"y":-0.75},{"p":6,"s":"M","x":577.07,"y":0},{"p":6,"s":"M","x":576.88,"y":0.55},{"p":6,"s":"M","x":576.7,"y":1.32},{"p":6,"s":"M","x":576.51,"y":2.46},{"p":6,"s":"M","x":576.33,"y":3.58},{"p":6,"s":"M","x":576.14,"y":4.06},{"p":6,"s":"M","x":575.96,"y":3.58},{"p":6,"s":"M","x":575.77,"y":2.46},{"p":6,"s":"M","x":575.59,"y":1.32},{"p":6,"s":"M","x":575.4,"y":0.55},{"p":6,"s":"M","x":575.22,"y":0.18},{"p":6,"s":"M","x":574.85,"y":0},
{"p":6,"s":"P","x":577.3,"y":-0.7},{"p":6,"s":"P","x":576.69,"y":0.1},{"p":6,"s":"P","x":576.36,"y":0.45},{"p":6,"s":"P","x":576.19,"y":1.43},{"p":6,"s":"P","x":576.03,"y":3.36},{"p":6,"s":"P","x":575.86,"y":6.43},{"p":6,"s":"P","x":575.7,"y":9.35},{"p":6,"s":"P","x":575.53,"y":10.6},{"p":6,"s":"P","x":575.37,"y":9.35},{"p":6,"s":"P","x":575.2,"y":6.43},{"p":6,"s":"P","x":575.04,"y":3.44},{"p":6,"s":"P","x":574.87,"y":1.43},{"p":6,"s":"P","x":574.71,"y":0.47},{"p":6,"s":"P","x":574.38,"y":0.05},{"p":6,"s":"P","x":574.0,"y":0},
{"p":6,"s":"G","x":576.77,"y":-0.6},{"p":6,"s":"G","x":576.06,"y":0.3},{"p":6,"s":"G","x":575.71,"y":1.03},{"p":6,"s":"G","x":575.53,"y":3.18},{"p":6,"s":"G","x":575.36,"y":7.63},{"p":6,"s":"G","x":575.18,"y":14.25},{"p":6,"s":"G","x":575.01,"y":20.74},{"p":6,"s":"G","x":574.83,"y":23.5},{"p":6,"s":"G","x":574.65,"y":20.74},{"p":6,"s":"G","x":574.46,"y":14.25},{"p":6,"s":"G","x":574.28,"y":7.63},{"p":6,"s":"G","x":574.09,"y":3.18},{"p":6,"s":"G","x":573.91,"y":1.5},{"p":6,"s":"G","x":573.54,"y":0.8},{"p":6,"s":"G","x":573.2,"y":0.3},{"p":6,"s":"G","x":572.8,"y":0.13},{"p":6,"s":"G","x":572.3,"y":0.03},
{"p":6,"s":"B","x":575.55,"y":-0.5},{"p":6,"s":"B","x":574.99,"y":0.4},{"p":6,"s":"B","x":574.77,"y":1.1},{"p":6,"s":"B","x":574.66,"y":2.75},{"p":6,"s":"B","x":574.55,"y":6.61},{"p":6,"s":"B","x":574.44,"y":12.34},{"p":6,"s":"B","x":574.33,"y":17.96},{"p":6,"s":"B","x":574.22,"y":20.35},{"p":6,"s":"B","x":574.1,"y":17.96},{"p":6,"s":"B","x":573.98,"y":12.34},{"p":6,"s":"B","x":573.86,"y":6.61},{"p":6,"s":"B","x":573.74,"y":2.75},{"p":6,"s":"B","x":573.62,"y":1.3},{"p":6,"s":"B","x":573.38,"y":0.9},{"p":6,"s":"B","x":573.0,"y":0.4},{"p":6,"s":"B","x":572.6,"y":0.15},{"p":6,"s":"B","x":572.0,"y":0.03},
{"p":6,"s":"N","x":581.35,"y":-0.85},{"p":6,"s":"N","x":577.0,"y":-0.8},{"p":6,"s":"N","x":575.5,"y":-0.55},{"p":6,"s":"N","x":574.5,"y":-0.2},{"p":6,"s":"N","x":573.8,"y":0},{"p":6,"s":"N","x":571.7,"y":0},
{"p":6,"s":"R","x":581.05,"y":-0.83},{"p":6,"s":"R","x":580.64,"y":-0.65},{"p":6,"s":"R","x":580.34,"y":-0.1},{"p":6,"s":"R","x":579.83,"y":0.35},{"p":6,"s":"R","x":579.32,"y":1.66},{"p":6,"s":"R","x":579.01,"y":2.75},{"p":6,"s":"R","x":578.6,"y":4.5},{"p":6,"s":"R","x":578.3,"y":5.8},{"p":6,"s":"R","x":577.99,"y":6.9},{"p":6,"s":"R","x":577.68,"y":8.2},{"p":6,"s":"R","x":577.28,"y":9.5},{"p":6,"s":"R","x":576.87,"y":10.4},{"p":6,"s":"R","x":576.46,"y":11.7},{"p":6,"s":"R","x":576.16,"y":13.7},{"p":6,"s":"R","x":575.85,"y":15.9},{"p":6,"s":"R","x":575.65,"y":18.0},{"p":6,"s":"R","x":575.45,"y":20.7},{"p":6,"s":"R","x":575.24,"y":24.6},{"p":6,"s":"R","x":575.04,"y":28.1},{"p":6,"s":"R","x":574.83,"y":31.1},{"p":6,"s":"R","x":574.68,"y":33.3},{"p":6,"s":"R","x":574.53,"y":35.1},{"p":6,"s":"R","x":574.43,"y":35.4},{"p":6,"s":"R","x":574.3,"y":35.0},{"p":6,"s":"R","x":574.22,"y":34.4},{"p":6,"s":"R","x":574.07,"y":30.7},{"p":6,"s":"R","x":573.92,"y":24.1},{"p":6,"s":"R","x":573.76,"y":16.7},{"p":6,"s":"R","x":573.61,"y":9.7},{"p":6,"s":"R","x":573.46,"y":4.9},{"p":6,"s":"R","x":573.3,"y":2.3},{"p":6,"s":"R","x":573.1,"y":0.79},{"p":6,"s":"R","x":572.79,"y":0.22},{"p":6,"s":"R","x":572.39,"y":0.04},{"p":6,"s":"R","x":571.7,"y":0}
]},
"columns":4,"spacing":0,"bounds":"flush",
"concat":[
 {"width":48,"height":50,"view":{"stroke":null},"data":{"values":[{"t":""}]},"mark":{"type":"text"},"encoding":{"text":{"field":"t"}}},
 {"width":390,"height":50,"view":{"stroke":"black","strokeWidth":3,"strokeDash":[11,5]},"data":{"values":[{"t":"AM"}]},"mark":{"type":"text","font":"Liberation Serif","fontSize":40,"baseline":"middle","dx":17},"encoding":{"text":{"field":"t"}}},
 {"width":397,"height":50,"view":{"stroke":"black","strokeWidth":3,"strokeDash":[11,5]},"data":{"values":[{"t":"SMAT-15"}]},"mark":{"type":"text","font":"Liberation Serif","fontSize":40,"baseline":"middle","dx":26.5},"encoding":{"text":{"field":"t"}}},
 {"width":388,"height":50,"view":{"stroke":"black","strokeWidth":3,"strokeDash":[11,5]},"data":{"values":[{"t":"SMAT-60"}]},"mark":{"type":"text","font":"Liberation Serif","fontSize":40,"baseline":"middle","dx":34},"encoding":{"text":{"field":"t"}}},

 {"width":48,"height":416,"view":{"stroke":"black","strokeWidth":3,"strokeDash":[11,5]},"data":{"values":[{"t":"At surface"}]},"mark":{"type":"text","font":"Liberation Serif","fontSize":38,"angle":270,"baseline":"middle","dx":-5.5,"dy":6.5},"encoding":{"text":{"field":"t"}}},
 {"width":390,"height":416,"view":{"stroke":"black","strokeWidth":3,"strokeDash":[11,5]},
  "title":{"text":"Cr 2p:6(1)","anchor":"middle","frame":"group","baseline":"alphabetic","offset":-42,"dx":27.5},
  "data":{"name":"curves"},"transform":[{"filter":"datum.p == 1"}],
  "resolve":{"axis":{"x":"independent","y":"independent"}},
  "layer":[
   {"transform":[{"filter":"datum.s != 'R' && datum.s != 'N'"}],"mark":{"type":"line","interpolate":"monotone","strokeWidth":1.8,"clip":true},
    "encoding":{
     "x":{"field":"x","type":"quantitative","scale":{"domain":[571.8,580.9],"range":[381.3,63.7],"nice":false,"zero":false},"axis":{"orient":"bottom","offset":-67.3,"values":[572,573,574,575,576,577,578,579,580],"tickSize":8,"labelPadding":7,"title":"Binding Energy (eV)","titlePadding":1}},
     "y":{"field":"y","type":"quantitative","scale":{"domain":[0,33.6],"range":[348.7,30.3],"nice":false,"zero":false},"axis":{"orient":"left","offset":-63.7,"values":[0,5,10,15,20,25,30],"tickSize":6,"labelPadding":1,"labelBaseline":"middle","labelOffset":-4,"title":"CPS x 10⁻¹","titleX":-44.4,"titleY":168,"titleAngle":270,"titleBaseline":"middle","titleAlign":"center"}},
     "color":{"field":"s","type":"nominal","scale":{"domain":["R","N","G","B","K","K2","O","P","M"],"range":["#cc2a1e","#8b5a2b","#1e9e1e","#1c1ca8","#000000","#000000","#8c8c14","#8a1c8a","#f48cc8"]},"legend":null}}},
   {"transform":[{"filter":"datum.s == 'N'"}],"mark":{"type":"line","interpolate":"monotone","strokeWidth":2.2,"clip":true},
    "encoding":{
     "x":{"field":"x","type":"quantitative","scale":{"domain":[571.8,580.9],"range":[381.3,63.7],"nice":false,"zero":false},"axis":{"orient":"bottom","offset":-67.3,"values":[572,572.2,572.4,572.6,572.8,573,573.2,573.4,573.6,573.8,574,574.2,574.4,574.6,574.8,575,575.2,575.4,575.6,575.8,576,576.2,576.4,576.6,576.8,577,577.2,577.4,577.6,577.8,578,578.2,578.4,578.6,578.8,579,579.2,579.4,579.6,579.8,580,580.2,580.4,580.6,580.8],"tickSize":8,"labels":false,"domain":false,"title":null}},
     "y":{"field":"y","type":"quantitative","scale":{"domain":[0,33.6],"range":[348.7,30.3],"nice":false,"zero":false},"axis":{"orient":"left","offset":-63.7,"values":[0,1,2,3,4,5,6,7,8,9,10,11,12,13,14,15,16,17,18,19,20,21,22,23,24,25,26,27,28,29,30,31,32,33],"tickSize":4,"labels":false,"domain":false,"title":null}},
     "color":{"field":"s","type":"nominal","scale":{"domain":["R","N","G","B","K","K2","O","P","M"],"range":["#cc2a1e","#8b5a2b","#1e9e1e","#1c1ca8","#000000","#000000","#8c8c14","#8a1c8a","#f48cc8"]},"legend":null}}},
   {"transform":[{"filter":"datum.s == 'R'"}],"mark":{"type":"line","interpolate":"monotone","strokeWidth":2.6,"clip":true},
    "encoding":{
     "x":{"field":"x","type":"quantitative","scale":{"domain":[571.8,580.9],"range":[381.3,63.7],"nice":false,"zero":false},"axis":{"orient":"top","offset":-30.3,"ticks":false,"labels":false,"title":null}},
     "y":{"field":"y","type":"quantitative","scale":{"domain":[0,33.6],"range":[348.7,30.3],"nice":false,"zero":false},"axis":{"orient":"right","offset":-8.7,"ticks":false,"labels":false,"title":null}},
     "color":{"field":"s","type":"nominal","scale":{"domain":["R","N","G","B","K","K2","O","P","M"],"range":["#cc2a1e","#8b5a2b","#1e9e1e","#1c1ca8","#000000","#000000","#8c8c14","#8a1c8a","#f48cc8"]},"legend":null}}}
  ]},
 {"width":397,"height":416,"view":{"stroke":"black","strokeWidth":3,"strokeDash":[11,5]},
  "title":{"text":"Cr 2p:6(2)","anchor":"middle","frame":"group","baseline":"alphabetic","offset":-42,"dx":28.35},
  "data":{"name":"curves"},"transform":[{"filter":"datum.p == 2"}],
  "resolve":{"axis":{"x":"independent","y":"independent"}},
  "layer":[
   {"transform":[{"filter":"datum.s != 'R' && datum.s != 'N'"}],"mark":{"type":"line","interpolate":"monotone","strokeWidth":1.8,"clip":true},
    "encoding":{
     "x":{"field":"x","type":"quantitative","scale":{"domain":[571.72,581.77],"range":[386,67.7],"nice":false,"zero":false},"axis":{"orient":"bottom","offset":-66.3,"values":[572,574,576,578,580],"tickSize":8,"labelPadding":7,"title":"Binding Energy (eV)","titlePadding":1}},
     "y":{"field":"y","type":"quantitative","scale":{"domain":[0,27.5],"range":[349.7,30.3],"nice":false,"zero":false},"axis":{"orient":"left","offset":-67.7,"values":[0,5,10,15,20,25],"tickSize":6,"labelPadding":1,"labelBaseline":"middle","labelOffset":-4,"title":"CPS x 10⁻¹","titleX":-41.7,"titleY":165.5,"titleAngle":270,"titleBaseline":"middle","titleAlign":"center"}},
     "color":{"field":"s","type":"nominal","scale":{"domain":["R","N","G","B","K","K2","O","P","M"],"range":["#cc2a1e","#8b5a2b","#1e9e1e","#1c1ca8","#000000","#000000","#8c8c14","#8a1c8a","#f48cc8"]},"legend":null}}},
   {"transform":[{"filter":"datum.s == 'N'"}],"mark":{"type":"line","interpolate":"monotone","strokeWidth":2.2,"clip":true},
    "encoding":{
     "x":{"field":"x","type":"quantitative","scale":{"domain":[571.72,581.77],"range":[386,67.7],"nice":false,"zero":false},"axis":{"orient":"bottom","offset":-66.3,"values":[572,572.5,573,573.5,574,574.5,575,575.5,576,576.5,577,577.5,578,578.5,579,579.5,580,580.5,581,581.5],"tickSize":8,"labels":false,"domain":false,"title":null}},
     "y":{"field":"y","type":"quantitative","scale":{"domain":[0,27.5],"range":[349.7,30.3],"nice":false,"zero":false},"axis":{"orient":"left","offset":-67.7,"values":[0,1,2,3,4,5,6,7,8,9,10,11,12,13,14,15,16,17,18,19,20,21,22,23,24,25,26,27],"tickSize":4,"labels":false,"domain":false,"title":null}},
     "color":{"field":"s","type":"nominal","scale":{"domain":["R","N","G","B","K","K2","O","P","M"],"range":["#cc2a1e","#8b5a2b","#1e9e1e","#1c1ca8","#000000","#000000","#8c8c14","#8a1c8a","#f48cc8"]},"legend":null}}},
   {"transform":[{"filter":"datum.s == 'R'"}],"mark":{"type":"line","interpolate":"monotone","strokeWidth":2.6,"clip":true},
    "encoding":{
     "x":{"field":"x","type":"quantitative","scale":{"domain":[571.72,581.77],"range":[386,67.7],"nice":false,"zero":false},"axis":{"orient":"top","offset":-30.3,"ticks":false,"labels":false,"title":null}},
     "y":{"field":"y","type":"quantitative","scale":{"domain":[0,27.5],"range":[349.7,30.3],"nice":false,"zero":false},"axis":{"orient":"right","offset":-11,"ticks":false,"labels":false,"title":null}},
     "color":{"field":"s","type":"nominal","scale":{"domain":["R","N","G","B","K","K2","O","P","M"],"range":["#cc2a1e","#8b5a2b","#1e9e1e","#1c1ca8","#000000","#000000","#8c8c14","#8a1c8a","#f48cc8"]},"legend":null}}}
  ]},
 {"width":388,"height":416,"view":{"stroke":"black","strokeWidth":3,"strokeDash":[11,5]},
  "title":{"text":"Cr 2p:4(60mins)","anchor":"middle","frame":"group","baseline":"alphabetic","offset":-42,"dx":30.7},
  "data":{"name":"curves"},"transform":[{"filter":"datum.p == 3"}],
  "resolve":{"axis":{"x":"independent","y":"independent"},"scale":{"color":"independent"}},
  "layer":[
   {"transform":[{"filter":"datum.s != 'R' && datum.s != 'N'"}],"mark":{"type":"line","interpolate":"monotone","strokeWidth":1.8,"clip":true},
    "encoding":{
     "x":{"field":"x","type":"quantitative","scale":{"domain":[572.1,580.83],"range":[382.7,66.7],"nice":false,"zero":false},"axis":{"orient":"bottom","offset":-67.3,"values":[573,574,575,576,577,578,579,580],"tickSize":8,"labelPadding":7,"title":"Binding Energy (eV)","titlePadding":1}},
     "y":{"field":"y","type":"quantitative","scale":{"domain":[0,19.7],"range":[348.7,30.3],"nice":false,"zero":false},"axis":{"orient":"left","offset":-66.7,"values":[0,2,4,6,8,10,12,14,16,18],"tickSize":6,"labelPadding":1,"labelBaseline":"middle","labelOffset":-4,"title":"CPS x 10⁻²","titleX":-49.7,"titleY":164,"titleAngle":270,"titleBaseline":"middle","titleAlign":"center"}},
     "color":{"field":"s","type":"nominal","scale":{"domain":["R","N","G","B","K","K2","O","P","M"],"range":["#cc2a1e","#8b5a2b","#1e9e1e","#1c1ca8","#000000","#000000","#8c8c14","#8a1c8a","#f48cc8"]},"legend":null}}},
   {"transform":[{"filter":"datum.s == 'N'"}],"mark":{"type":"line","interpolate":"monotone","strokeWidth":2.2,"clip":true},
    "encoding":{
     "x":{"field":"x","type":"quantitative","scale":{"domain":[572.1,580.83],"range":[382.7,66.7],"nice":false,"zero":false},"axis":{"orient":"bottom","offset":-67.3,"values":[572.2,572.4,572.6,572.8,573,573.2,573.4,573.6,573.8,574,574.2,574.4,574.6,574.8,575,575.2,575.4,575.6,575.8,576,576.2,576.4,576.6,576.8,577,577.2,577.4,577.6,577.8,578,578.2,578.4,578.6,578.8,579,579.2,579.4,579.6,579.8,580,580.2,580.4,580.6,580.8],"tickSize":8,"labels":false,"domain":false,"title":null}},
     "y":{"field":"y","type":"quantitative","scale":{"domain":[0,19.7],"range":[348.7,30.3],"nice":false,"zero":false},"axis":{"orient":"left","offset":-66.7,"values":[0,0.5,1,1.5,2,2.5,3,3.5,4,4.5,5,5.5,6,6.5,7,7.5,8,8.5,9,9.5,10,10.5,11,11.5,12,12.5,13,13.5,14,14.5,15,15.5,16,16.5,17,17.5,18,18.5,19,19.5],"tickSize":4,"labels":false,"domain":false,"title":null}},
     "color":{"field":"s","type":"nominal","scale":{"domain":["R","N","G","B","K","K2","O","P","M"],"range":["#cc2a1e","#8b5a2b","#1e9e1e","#1c1ca8","#000000","#000000","#8c8c14","#8a1c8a","#f48cc8"]},"legend":null}}},
   {"transform":[{"filter":"datum.s == 'R'"}],"mark":{"type":"line","interpolate":"monotone","strokeWidth":2.6,"clip":true},
    "encoding":{
     "x":{"field":"x","type":"quantitative","scale":{"domain":[572.1,580.83],"range":[382.7,66.7],"nice":false,"zero":false},"axis":{"orient":"top","offset":-30.3,"ticks":false,"labels":false,"title":null}},
     "y":{"field":"y","type":"quantitative","scale":{"domain":[0,19.7],"range":[348.7,30.3],"nice":false,"zero":false},"axis":{"orient":"right","offset":-5.3,"ticks":false,"labels":false,"title":null}},
     "color":{"field":"s","type":"nominal","scale":{"domain":["R","N","G","B","K","K2","O","P","M"],"range":["#cc2a1e","#8b5a2b","#1e9e1e","#1c1ca8","#000000","#000000","#8c8c14","#8a1c8a","#f48cc8"]},"legend":null}}},
   {"data":{"name":"labels"},"mark":{"type":"text","font":"Liberation Sans","fontSize":18,"fontWeight":"bold"},
    "encoding":{
     "x":{"field":"x","type":"quantitative","scale":{"domain":[572.1,580.83],"range":[382.7,66.7],"nice":false,"zero":false},"axis":null},
     "y":{"field":"y","type":"quantitative","scale":{"domain":[0,19.7],"range":[348.7,30.3],"nice":false,"zero":false},"axis":null},
     "text":{"field":"t"},
     "color":{"field":"s","type":"nominal","scale":{"domain":["G","K","O","P"],"range":["#1db35c","#111111","#a3a31e","#a83aae"]},"legend":null}}}
  ]},

 {"width":48,"height":412,"view":{"stroke":"black","strokeWidth":3,"strokeDash":[11,5]},"data":{"values":[{"t":"At depth"}]},"mark":{"type":"text","font":"Liberation Serif","fontSize":38,"angle":270,"baseline":"middle","dx":10,"dy":6.5},"encoding":{"text":{"field":"t"}}},
 {"width":390,"height":412,"view":{"stroke":"black","strokeWidth":3,"strokeDash":[11,5]},
  "title":{"text":"Cr 2p:14(1)","anchor":"middle","frame":"group","baseline":"alphabetic","offset":-36.3,"dx":27.5},
  "data":{"name":"curves"},"transform":[{"filter":"datum.p == 4"}],
  "resolve":{"axis":{"x":"independent","y":"independent"}},
  "layer":[
   {"transform":[{"filter":"datum.s != 'R' && datum.s != 'N'"}],"mark":{"type":"line","interpolate":"monotone","strokeWidth":1.8,"clip":true},
    "encoding":{
     "x":{"field":"x","type":"quantitative","scale":{"domain":[572.25,580.64],"range":[381.3,63.7],"nice":false,"zero":false},"axis":{"orient":"bottom","offset":-67.7,"values":[573,574,575,576,577,578,579,580],"tickSize":8,"labelPadding":7,"title":"Binding Energy (eV)","titlePadding":1}},
     "y":{"field":"y","type":"quantitative","scale":{"domain":[0,13.1],"range":[344.3,26.3],"nice":false,"zero":false},"axis":{"orient":"left","offset":-63.7,"values":[0,2,4,6,8,10,12],"tickSize":6,"labelPadding":1,"labelBaseline":"middle","labelOffset":-4,"title":"CPS x 10⁻²","titleX":-44.7,"titleY":159,"titleAngle":270,"titleBaseline":"middle","titleAlign":"center"}},
     "color":{"field":"s","type":"nominal","scale":{"domain":["R","N","G","B","K","K2","O","P","M"],"range":["#cc2a1e","#8b5a2b","#1e9e1e","#1c1ca8","#000000","#000000","#8c8c14","#8a1c8a","#f48cc8"]},"legend":null}}},
   {"transform":[{"filter":"datum.s == 'N'"}],"mark":{"type":"line","interpolate":"monotone","strokeWidth":2.2,"clip":true},
    "encoding":{
     "x":{"field":"x","type":"quantitative","scale":{"domain":[572.25,580.64],"range":[381.3,63.7],"nice":false,"zero":false},"axis":{"orient":"bottom","offset":-67.7,"values":[572.4,572.6,572.8,573,573.2,573.4,573.6,573.8,574,574.2,574.4,574.6,574.8,575,575.2,575.4,575.6,575.8,576,576.2,576.4,576.6,576.8,577,577.2,577.4,577.6,577.8,578,578.2,578.4,578.6,578.8,579,579.2,579.4,579.6,579.8,580,580.2,580.4,580.6],"tickSize":8,"labels":false,"domain":false,"title":null}},
     "y":{"field":"y","type":"quantitative","scale":{"domain":[0,13.1],"range":[344.3,26.3],"nice":false,"zero":false},"axis":{"orient":"left","offset":-63.7,"values":[0,0.5,1,1.5,2,2.5,3,3.5,4,4.5,5,5.5,6,6.5,7,7.5,8,8.5,9,9.5,10,10.5,11,11.5,12,12.5,13],"tickSize":4,"labels":false,"domain":false,"title":null}},
     "color":{"field":"s","type":"nominal","scale":{"domain":["R","N","G","B","K","K2","O","P","M"],"range":["#cc2a1e","#8b5a2b","#1e9e1e","#1c1ca8","#000000","#000000","#8c8c14","#8a1c8a","#f48cc8"]},"legend":null}}},
   {"transform":[{"filter":"datum.s == 'R'"}],"mark":{"type":"line","interpolate":"monotone","strokeWidth":2.6,"clip":true},
    "encoding":{
     "x":{"field":"x","type":"quantitative","scale":{"domain":[572.25,580.64],"range":[381.3,63.7],"nice":false,"zero":false},"axis":{"orient":"top","offset":-26.3,"ticks":false,"labels":false,"title":null}},
     "y":{"field":"y","type":"quantitative","scale":{"domain":[0,13.1],"range":[344.3,26.3],"nice":false,"zero":false},"axis":{"orient":"right","offset":-8.7,"ticks":false,"labels":false,"title":null}},
     "color":{"field":"s","type":"nominal","scale":{"domain":["R","N","G","B","K","K2","O","P","M"],"range":["#cc2a1e","#8b5a2b","#1e9e1e","#1c1ca8","#000000","#000000","#8c8c14","#8a1c8a","#f48cc8"]},"legend":null}}}
  ]},
 {"width":397,"height":412,"view":{"stroke":"black","strokeWidth":3,"strokeDash":[11,5]},
  "title":{"text":"Cr 2p:13(2)","anchor":"middle","frame":"group","baseline":"alphabetic","offset":-36.3,"dx":28.5},
  "data":{"name":"curves"},"transform":[{"filter":"datum.p == 5"}],
  "resolve":{"axis":{"x":"independent","y":"independent"}},
  "layer":[
   {"transform":[{"filter":"datum.s != 'R' && datum.s != 'N'"}],"mark":{"type":"line","interpolate":"monotone","strokeWidth":1.8,"clip":true},
    "encoding":{
     "x":{"field":"x","type":"quantitative","scale":{"domain":[572.23,581.12],"range":[385.3,68.7],"nice":false,"zero":false},"axis":{"orient":"bottom","offset":-68.3,"values":[573,574,575,576,577,578,579,580,581],"tickSize":8,"labelPadding":7,"title":"Binding Energy (eV)","titlePadding":1}},
     "y":{"field":"y","type":"quantitative","scale":{"domain":[-0.05,14.07],"range":[343.7,26],"nice":false,"zero":false},"axis":{"orient":"left","offset":-68.7,"values":[0,2,4,6,8,10,12,14],"tickSize":6,"labelPadding":1,"labelBaseline":"middle","labelOffset":-4,"title":"CPS x 10⁻²","titleX":-44.7,"titleY":159.5,"titleAngle":270,"titleBaseline":"middle","titleAlign":"center"}},
     "color":{"field":"s","type":"nominal","scale":{"domain":["R","N","G","B","K","K2","O","P","M"],"range":["#cc2a1e","#8b5a2b","#1e9e1e","#1c1ca8","#000000","#000000","#8c8c14","#8a1c8a","#f48cc8"]},"legend":null}}},
   {"transform":[{"filter":"datum.s == 'N'"}],"mark":{"type":"line","interpolate":"monotone","strokeWidth":2.2,"clip":true},
    "encoding":{
     "x":{"field":"x","type":"quantitative","scale":{"domain":[572.23,581.12],"range":[385.3,68.7],"nice":false,"zero":false},"axis":{"orient":"bottom","offset":-68.3,"values":[572.4,572.6,572.8,573,573.2,573.4,573.6,573.8,574,574.2,574.4,574.6,574.8,575,575.2,575.4,575.6,575.8,576,576.2,576.4,576.6,576.8,577,577.2,577.4,577.6,577.8,578,578.2,578.4,578.6,578.8,579,579.2,579.4,579.6,579.8,580,580.2,580.4,580.6,580.8,581],"tickSize":8,"labels":false,"domain":false,"title":null}},
     "y":{"field":"y","type":"quantitative","scale":{"domain":[-0.05,14.07],"range":[343.7,26],"nice":false,"zero":false},"axis":{"orient":"left","offset":-68.7,"values":[0,0.5,1,1.5,2,2.5,3,3.5,4,4.5,5,5.5,6,6.5,7,7.5,8,8.5,9,9.5,10,10.5,11,11.5,12,12.5,13,13.5,14],"tickSize":4,"labels":false,"domain":false,"title":null}},
     "color":{"field":"s","type":"nominal","scale":{"domain":["R","N","G","B","K","K2","O","P","M"],"range":["#cc2a1e","#8b5a2b","#1e9e1e","#1c1ca8","#000000","#000000","#8c8c14","#8a1c8a","#f48cc8"]},"legend":null}}},
   {"transform":[{"filter":"datum.s == 'R'"}],"mark":{"type":"line","interpolate":"monotone","strokeWidth":2.6,"clip":true},
    "encoding":{
     "x":{"field":"x","type":"quantitative","scale":{"domain":[572.23,581.12],"range":[385.3,68.7],"nice":false,"zero":false},"axis":{"orient":"top","offset":-26,"ticks":false,"labels":false,"title":null}},
     "y":{"field":"y","type":"quantitative","scale":{"domain":[-0.05,14.07],"range":[343.7,26],"nice":false,"zero":false},"axis":{"orient":"right","offset":-11.7,"ticks":false,"labels":false,"title":null}},
     "color":{"field":"s","type":"nominal","scale":{"domain":["R","N","G","B","K","K2","O","P","M"],"range":["#cc2a1e","#8b5a2b","#1e9e1e","#1c1ca8","#000000","#000000","#8c8c14","#8a1c8a","#f48cc8"]},"legend":null}}}
  ]},
 {"width":388,"height":412,"view":{"stroke":"black","strokeWidth":3,"strokeDash":[11,5]},
  "title":{"text":"Cr 2p:11(60mins)","anchor":"middle","frame":"group","baseline":"alphabetic","offset":-36.3,"dx":30.35},
  "data":{"name":"curves"},"transform":[{"filter":"datum.p == 6"}],
  "resolve":{"axis":{"x":"independent","y":"independent"}},
  "layer":[
   {"transform":[{"filter":"datum.s != 'R' && datum.s != 'N'"}],"mark":{"type":"line","interpolate":"monotone","strokeWidth":1.8,"clip":true},
    "encoding":{
     "x":{"field":"x","type":"quantitative","scale":{"domain":[571.69,581.38],"range":[382.7,66],"nice":false,"zero":false},"axis":{"orient":"bottom","offset":-68.3,"values":[572,573,574,575,576,577,578,579,580,581],"tickSize":8,"labelPadding":7,"title":"Binding Energy (eV)","titlePadding":1}},
     "y":{"field":"y","type":"quantitative","scale":{"domain":[-0.9,40.8],"range":[343.7,26],"nice":false,"zero":false},"axis":{"orient":"left","offset":-66,"values":[0,5,10,15,20,25,30,35,40],"tickSize":6,"labelPadding":1,"labelBaseline":"middle","labelOffset":-4,"title":"CPS x 10⁻²","titleX":-44,"titleY":159.5,"titleAngle":270,"titleBaseline":"middle","titleAlign":"center"}},
     "color":{"field":"s","type":"nominal","scale":{"domain":["R","N","G","B","K","K2","O","P","M"],"range":["#cc2a1e","#8b5a2b","#1e9e1e","#1c1ca8","#000000","#000000","#8c8c14","#8a1c8a","#f48cc8"]},"legend":null}}},
   {"transform":[{"filter":"datum.s == 'N'"}],"mark":{"type":"line","interpolate":"monotone","strokeWidth":2.2,"clip":true},
    "encoding":{
     "x":{"field":"x","type":"quantitative","scale":{"domain":[571.69,581.38],"range":[382.7,66],"nice":false,"zero":false},"axis":{"orient":"bottom","offset":-68.3,"values":[571.8,572,572.2,572.4,572.6,572.8,573,573.2,573.4,573.6,573.8,574,574.2,574.4,574.6,574.8,575,575.2,575.4,575.6,575.8,576,576.2,576.4,576.6,576.8,577,577.2,577.4,577.6,577.8,578,578.2,578.4,578.6,578.8,579,579.2,579.4,579.6,579.8,580,580.2,580.4,580.6,580.8,581,581.2],"tickSize":8,"labels":false,"domain":false,"title":null}},
     "y":{"field":"y","type":"quantitative","scale":{"domain":[-0.9,40.8],"range":[343.7,26],"nice":false,"zero":false},"axis":{"orient":"left","offset":-66,"values":[0,1,2,3,4,5,6,7,8,9,10,11,12,13,14,15,16,17,18,19,20,21,22,23,24,25,26,27,28,29,30,31,32,33,34,35,36,37,38,39,40],"tickSize":4,"labels":false,"domain":false,"title":null}},
     "color":{"field":"s","type":"nominal","scale":{"domain":["R","N","G","B","K","K2","O","P","M"],"range":["#cc2a1e","#8b5a2b","#1e9e1e","#1c1ca8","#000000","#000000","#8c8c14","#8a1c8a","#f48cc8"]},"legend":null}}},
   {"transform":[{"filter":"datum.s == 'R'"}],"mark":{"type":"line","interpolate":"monotone","strokeWidth":2.6,"clip":true},
    "encoding":{
     "x":{"field":"x","type":"quantitative","scale":{"domain":[571.69,581.38],"range":[382.7,66],"nice":false,"zero":false},"axis":{"orient":"top","offset":-26,"ticks":false,"labels":false,"title":null}},
     "y":{"field":"y","type":"quantitative","scale":{"domain":[-0.9,40.8],"range":[343.7,26],"nice":false,"zero":false},"axis":{"orient":"right","offset":-5.3,"ticks":false,"labels":false,"title":null}},
     "color":{"field":"s","type":"nominal","scale":{"domain":["R","N","G","B","K","K2","O","P","M"],"range":["#cc2a1e","#8b5a2b","#1e9e1e","#1c1ca8","#000000","#000000","#8c8c14","#8a1c8a","#f48cc8"]},"legend":null}}}
  ]}
]
}
